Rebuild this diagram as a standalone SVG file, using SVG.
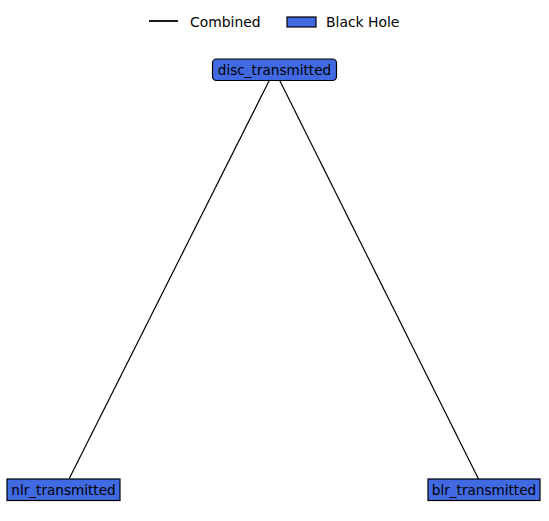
<svg xmlns="http://www.w3.org/2000/svg" width="549" height="521" viewBox="0 0 549 521">
<style>
text{font-family:"DejaVu Sans",sans-serif;font-size:13.9px;fill:#000}
.node text{font-size:13.6px}
.node rect{fill:#4169e1;stroke:#000;stroke-width:1.2}
.edge{stroke:#000;stroke-width:1.2;fill:none}
</style>
<rect width="549" height="521" fill="#fff"/>
<g id="legend">
<line x1="149" y1="21" x2="178" y2="21" stroke="#000" stroke-width="1.8"/>
<text x="190" y="26.5">Combined</text>
<rect x="287" y="17" width="29" height="10" fill="#4169e1" stroke="#000" stroke-width="1.2"/>
<text x="326" y="26.5">Black Hole</text>
</g>
<g id="connectors">
<line class="edge" x1="274.5" y1="70" x2="63.5" y2="490"/>
<line class="edge" x1="274.5" y1="70" x2="484" y2="490"/>
</g>
<g id="disc_transmitted" class="node">
<rect x="212.5" y="59" width="124" height="21.5" rx="4"/>
<text x="274.5" y="74.7" text-anchor="middle">disc_transmitted</text>
</g>
<g id="nlr_transmitted" class="node">
<rect x="7" y="479" width="113" height="21.5"/>
<text x="63.5" y="494.7" text-anchor="middle">nlr_transmitted</text>
</g>
<g id="blr_transmitted" class="node">
<rect x="428" y="479" width="112" height="21.5"/>
<text x="484" y="494.7" text-anchor="middle">blr_transmitted</text>
</g>
</svg>
